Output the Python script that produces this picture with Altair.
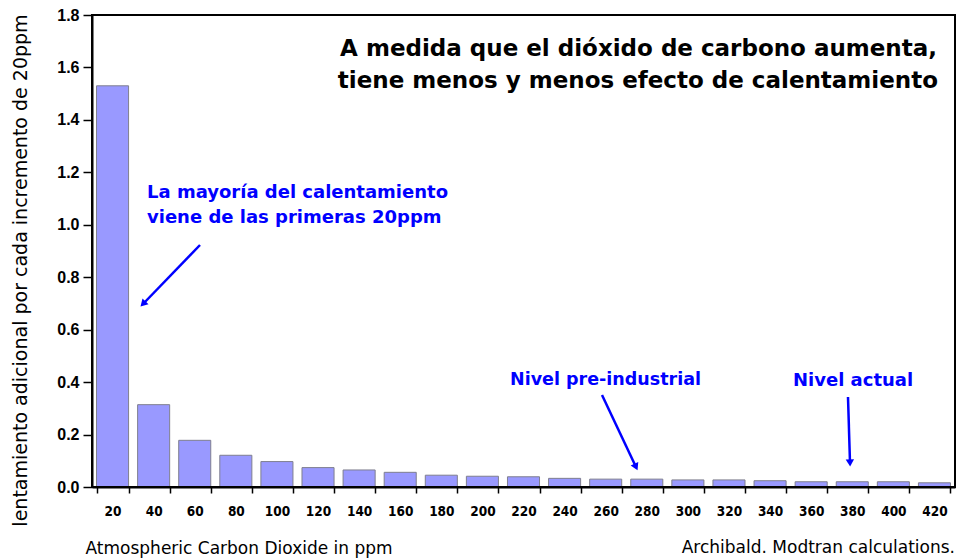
import altair as alt
import pandas as pd

ppm = [20, 40, 60, 80, 100, 120, 140, 160, 180, 200, 220,
       240, 260, 280, 300, 320, 340, 360, 380, 400, 420]
calentamiento = [1.53, 0.314, 0.178, 0.121, 0.097, 0.074, 0.065, 0.056, 0.045, 0.041, 0.039,
                 0.033, 0.030, 0.030, 0.027, 0.027, 0.024, 0.020, 0.020, 0.020, 0.016]
y_ticks = [0.0, 0.2, 0.4, 0.6, 0.8, 1.0, 1.2, 1.4, 1.6, 1.8]

titulo = ["A medida que el dióxido de carbono aumenta,",
          "tiene menos y menos efecto de calentamiento"]
nota_1 = ["La mayoría del calentamiento", "viene de las primeras 20ppm"]
nota_2 = "Nivel pre-industrial"
nota_3 = "Nivel actual"
fuente = "Archibald. Modtran calculations."
x_titulo = "Atmospheric Carbon Dioxide  in ppm"
y_titulo = "lentamiento adicional por cada incremento de 20ppm"

W, H = 863, 472
BLUE = "#0000FF"

df = pd.DataFrame({"ppm": ppm, "val": calentamiento})

bars = alt.Chart(df).mark_bar(color="#9999FF", stroke="#7f7f8f", strokeWidth=1).encode(
    x=alt.X("ppm:O",
            scale=alt.Scale(paddingInner=0.22, paddingOuter=0.11),
            axis=alt.Axis(tickBand="extent", labelAngle=0,
                          labelFont="DejaVu Sans Condensed", labelFontWeight="bold",
                          labelFontSize=13.5, labelColor="black", labelPadding=11,
                          tickSize=6, tickColor="black", tickWidth=1.5,
                          domainColor="black", domainWidth=2,
                          title=x_titulo, titleFont="DejaVu Sans",
                          titleFontWeight="normal", titleFontSize=17, titleColor="black",
                          titleAnchor="start", titleAlign="left", titleBaseline="middle",
                          titleX=-7, titleY=61)),
    y=alt.Y("val:Q",
            scale=alt.Scale(domain=[0, 1.8], nice=False, zero=True),
            axis=alt.Axis(values=y_ticks, format=".1f", grid=False,
                          labelFont="Liberation Sans", labelFontWeight="bold",
                          labelFontSize=16, labelColor="black", labelPadding=4,
                          tickSize=9, tickColor="black", tickWidth=1.5,
                          domainColor="black", domainWidth=2,
                          title=y_titulo, titleFont="DejaVu Sans",
                          titleFontWeight="normal", titleFontSize=19, titleColor="black",
                          titleX=-72, titleY=255, titleAlign="center",
                          titleBaseline="middle", titleAngle=-90)),
)

frame = alt.Chart(pd.DataFrame({"a": [0]})).mark_rect(
    fill=None, stroke="black", strokeWidth=2).encode(
    x=alt.value(0), x2=alt.value(W), y=alt.value(0), y2=alt.value(H))

def txt(text, x, y, size, color="black", weight="bold", align="left", font="DejaVu Sans"):
    return alt.Chart(pd.DataFrame({"t": [text]})).mark_text(
        align=align, baseline="middle", fontSize=size, fontWeight=weight,
        color=color, font=font).encode(
        text="t:N", x=alt.value(x), y=alt.value(y))

def arrow(x1, y1, x2, y2, angle):
    line = alt.Chart(pd.DataFrame({"a": [0]})).mark_rule(color=BLUE, strokeWidth=2.5).encode(
        x=alt.value(x1), y=alt.value(y1), x2=alt.value(x2), y2=alt.value(y2))
    head = alt.Chart(pd.DataFrame({"a": [0]})).mark_point(
        shape="triangle-up", filled=True, color=BLUE, size=70, angle=angle, opacity=1).encode(
        x=alt.value(x2), y=alt.value(y2))
    return line + head

ox, oy = 92, 15
layers = [bars, frame,
          txt(titulo[0], 937 - ox, 49 - oy, 23, align="right"),
          txt(titulo[1], 938 - ox, 81 - oy, 23, align="right"),
          txt(nota_1[0], 147 - ox, 193 - oy, 18, color=BLUE),
          txt(nota_1[1], 147 - ox, 218 - oy, 18, color=BLUE),
          txt(nota_2, 510 - ox, 380 - oy, 17.5, color=BLUE),
          txt(nota_3, 793 - ox, 381 - oy, 18, color=BLUE),
          txt(fuente, 955 - ox, 548 - oy, 17, weight="normal", align="right",
              font="DejaVu Sans"),
          arrow(200 - ox, 245 - oy, 143 - ox, 304 - oy, 224),
          arrow(602 - ox, 395 - oy, 636 - ox, 467 - oy, 155),
          arrow(848 - ox, 397 - oy, 850 - ox, 463 - oy, 178)]

chart = alt.layer(*layers).properties(
    width=W, height=H,
    autosize=alt.AutoSizeParams(type="none"),
    padding={"left": 84, "top": 7, "right": 1, "bottom": 74},
).configure_view(stroke=None).configure(background="white")

chart.save("out.html", embed_options={"renderer": "svg", "actions": False})
